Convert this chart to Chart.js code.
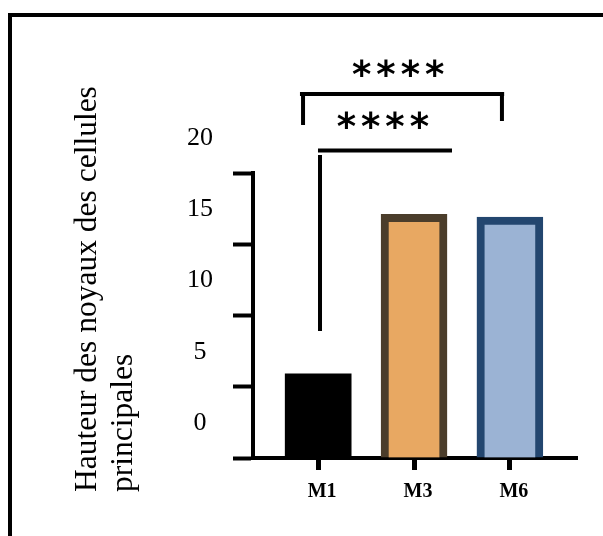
<!DOCTYPE html>
<html>
<head>
<meta charset="utf-8">
<script src="https://cdn.jsdelivr.net/npm/chart.js@4.4.0/dist/chart.umd.min.js"></script>
<style>
  html, body { margin: 0; padding: 0; background: #fff; overflow: hidden; }
  #cadre { position: absolute; left: 8px; top: 13px; width: 700px; height: 600px;
           border-top: 4px solid #000; border-left: 4px solid #000; }
  #zone { position: absolute; left: 0; top: 0; width: 603px; height: 536px; }
</style>
</head>
<body>
<div id="cadre"></div>
<div id="zone"><canvas id="graphique"></canvas></div>
<script>
const groupes = ['M1', 'M3', 'M6']
const positions = [1, 2, 3]
const hauteurs = [5.9, 17.1, 16.9]
const graduations = [0, 5, 10, 15, 20]
const titreY = ['Hauteur des noyaux des cellules', 'principales']

const remplissage = ['#000000', '#E8A862', '#9BB3D4']
const contours = ['#000000', '#4B3D2B', '#23466F']

// traits de significativité (x1, y1, x2, y2) en unités du graphique
const traits = [
    [0.81, 25.54, 2.94, 25.54],
    [0.842, 25.54, 0.842, 23.37],
    [2.917, 25.54, 2.917, 23.65],
    [0.998, 21.58, 2.396, 21.58],
    [1.019, 21.26, 1.019, 8.91]
]
const etoiles = [
    {texte: '****', x: 1.84, y: 27.2},
    {texte: '****', x: 1.68, y: 23.55}
]

const annotations = {
    id: 'annotations',
    afterDatasetsDraw(chart) {
        const {ctx, scales: {x, y}} = chart
        ctx.save()
        ctx.strokeStyle = '#000'
        ctx.lineWidth = 4
        traits.forEach(t => {
            ctx.beginPath()
            ctx.moveTo(x.getPixelForValue(t[0]), y.getPixelForValue(t[1]))
            ctx.lineTo(x.getPixelForValue(t[2]), y.getPixelForValue(t[3]))
            ctx.stroke()
        })
        ctx.fillStyle = '#000'
        ctx.font = 'bold 37px "DejaVu Sans"'
        ctx.letterSpacing = '5px'
        ctx.textAlign = 'center'
        ctx.textBaseline = 'middle'
        etoiles.forEach(e => {
            ctx.fillText(e.texte, x.getPixelForValue(e.x) + 2, y.getPixelForValue(e.y) + 7)
        })
        ctx.restore()
    }
}

// titre de l'axe y, aligné en bas comme dans l'original
const titre = {
    id: 'titre',
    afterDraw(chart) {
        const {ctx, chartArea} = chart
        ctx.save()
        ctx.fillStyle = '#000'
        ctx.font = '31.5px "Liberation Serif"'
        ctx.textAlign = 'left'
        ctx.textBaseline = 'alphabetic'
        titreY.forEach((ligne, i) => {
            ctx.save()
            ctx.translate(chartArea.left - 157 + i * 36, chartArea.bottom + 34)
            ctx.rotate(-Math.PI / 2)
            ctx.fillText(ligne, 0, 0)
            ctx.restore()
        })
        ctx.restore()
    }
}

const ctx = document.getElementById('graphique').getContext('2d')
const chart = new Chart(ctx, {
    type: 'bar',
    data: {
        datasets: [{
            data: positions.map((p, i) => ({x: p, y: hauteurs[i]})),
            backgroundColor: remplissage,
            borderColor: contours,
            borderWidth: [0, 8, 8],
            barThickness: 66
        }]
    },
    options: {
        responsive: true,
        maintainAspectRatio: false,
        animation: false,
        layout: {padding: {left: 0, top: 173, right: 26, bottom: 0}},
        plugins: {legend: {display: false}, tooltip: {enabled: false}},
        scales: {
            x: {
                type: 'linear',
                min: 0.32,
                max: 3.7,
                offset: false,
                afterBuildTicks: axis => { axis.ticks = positions.map(v => ({value: v})) },
                afterFit: s => { s.height = 78 },
                border: {display: true, color: '#000', width: 4},
                grid: {offset: false, drawOnChartArea: false, drawTicks: true, tickLength: 12, tickWidth: 5, color: '#000'},
                ticks: {
                    callback: v => groupes[positions.indexOf(v)],
                    font: {family: 'Liberation Serif', size: 20, weight: 'bold'},
                    color: '#000',
                    padding: 10,
                    labelOffset: 4,
                    maxRotation: 0
                }
            },
            y: {
                min: 0,
                max: 20,
                afterBuildTicks: axis => { axis.ticks = graduations.map(v => ({value: v})) },
                afterFit: s => { s.width = 253 },
                border: {display: true, color: '#000', width: 4},
                grid: {drawOnChartArea: false, drawTicks: true, tickLength: 20, tickWidth: 4, color: '#000'},
                ticks: {
                    font: {family: 'Liberation Serif', size: 26},
                    color: '#000',
                    padding: 20,
                    crossAlign: 'center',
                    labelOffset: -35
                }
            }
        }
    },
    plugins: [annotations, titre]
})
</script>
</body>
</html>
